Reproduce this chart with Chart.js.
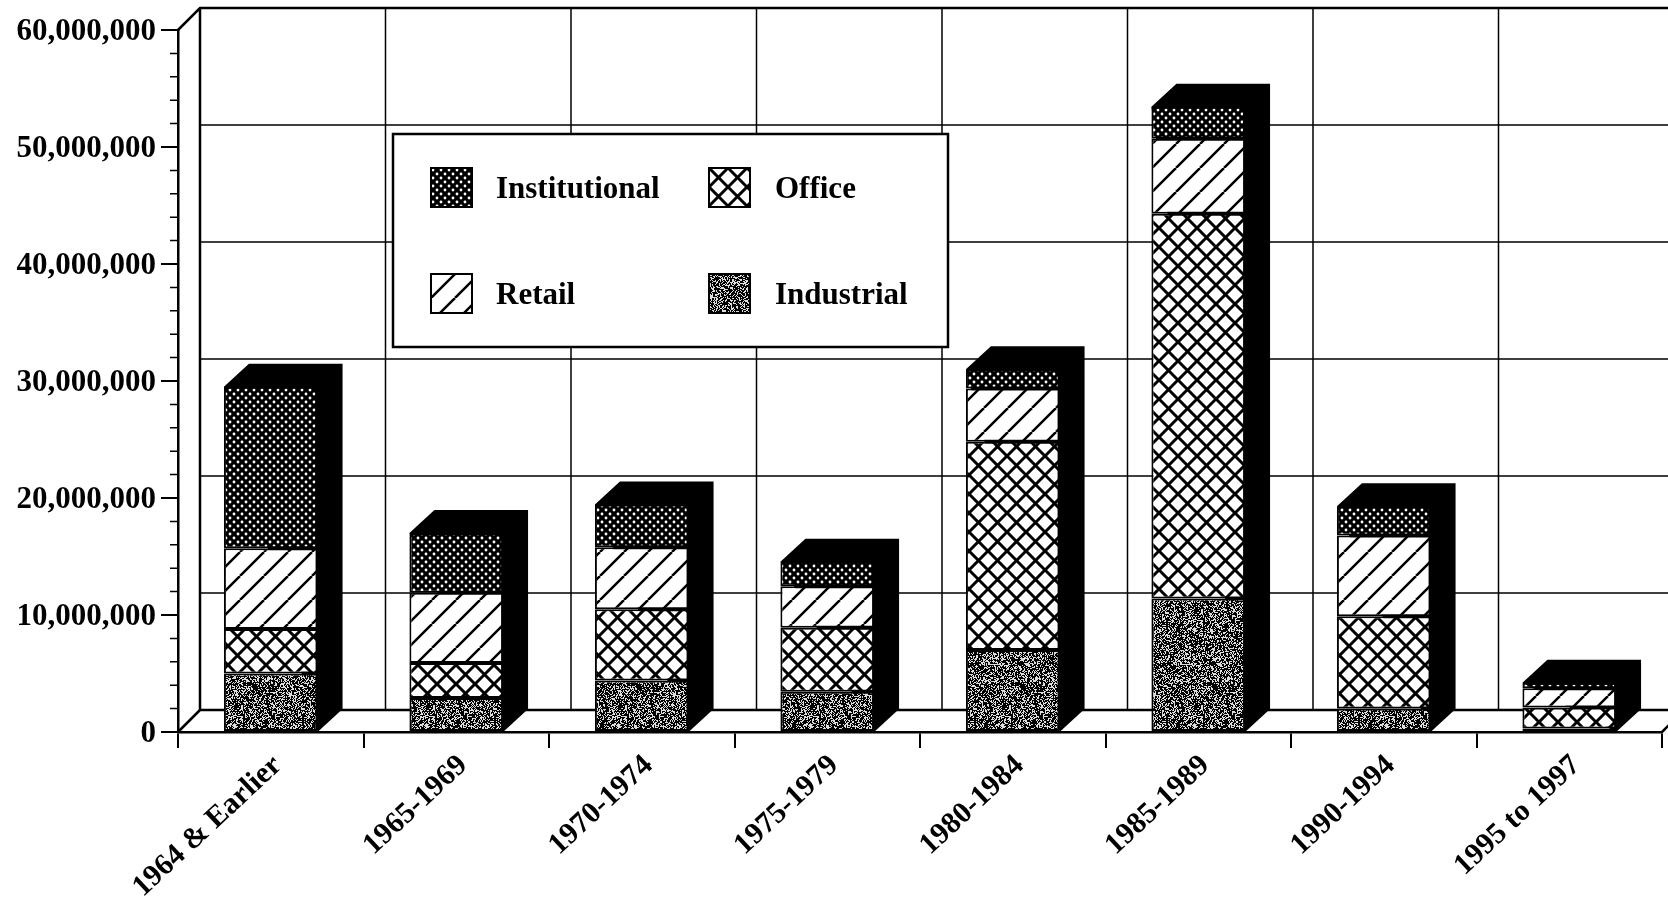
<!DOCTYPE html>
<html>
<head>
<meta charset="utf-8">
<title>Floor space by period</title>
<script src="https://cdn.jsdelivr.net/npm/chart.js@4/dist/chart.umd.min.js"></script>
<style>
  html, body { margin: 0; padding: 0; background: #fff; }
  canvas { display: block; }
</style>
</head>
<body>
<canvas id="chart" width="1668" height="897"></canvas>
<script>
const categories = ['1964 & Earlier', '1965-1969', '1970-1974', '1975-1979', '1980-1984', '1985-1989', '1990-1994', '1995 to 1997'];
const industrial = [5000000, 2900000, 4400000, 3450000, 7000000, 11400000, 2000000, 300000];
const office = [3800000, 3000000, 6100000, 5450000, 17800000, 32900000, 7900000, 1800000];
const retail = [6900000, 6000000, 5300000, 3550000, 4550000, 6400000, 6900000, 1650000];
const institutional = [13800000, 5100000, 3650000, 2100000, 1650000, 2750000, 2500000, 450000];
const yMax = 60000000;
const yMajorStep = 10000000;
const yMinorStep = 2000000;

const FONT = '"Liberation Serif", "Times New Roman", serif';
// 3D offsets of the back wall and of the bars
const WALL_DX = 22, WALL_DY = 22;
const BAR_DX = 25, BAR_DY = 23;

// Fill textures, all drawn into small tiles
function makeTile(w, h, draw) {
  const c = document.createElement('canvas');
  c.width = w; c.height = h;
  const g = c.getContext('2d');
  g.fillStyle = '#fff';
  g.fillRect(0, 0, w, h);
  draw(g);
  return g.createPattern(c, 'repeat');
}
function diagonal(g, s, up) {
  g.beginPath();
  for (let i = -1; i <= 1; i++) {
    if (up) { g.moveTo(i * s, s); g.lineTo(i * s + s, 0); }
    else { g.moveTo(i * s, 0); g.lineTo(i * s + s, s); }
  }
  g.stroke();
}
const retailFill = makeTile(24, 24, g => {
  g.strokeStyle = '#000'; g.lineWidth = 2.5;
  diagonal(g, 24, true);
});
const officeFill = makeTile(19, 19, g => {
  g.strokeStyle = '#000'; g.lineWidth = 3;
  diagonal(g, 19, true);
  diagonal(g, 19, false);
});
const institutionalFill = makeTile(8, 8, g => {
  g.fillStyle = '#000'; g.fillRect(0, 0, 8, 8);
  g.fillStyle = '#fff';
  [[2, 2], [6, 6]].forEach(p => {
    g.beginPath(); g.arc(p[0], p[1], 1.4, 0, Math.PI * 2); g.fill();
  });
});
const industrialFill = makeTile(96, 96, g => {
  // black with white specks, fixed xorshift sequence so it looks the same every run
  let seed = 2463534242;
  g.fillStyle = '#000';
  g.fillRect(0, 0, 96, 96);
  g.fillStyle = '#ddd';
  for (let y = 0; y < 96; y++) {
    for (let x = 0; x < 96; x++) {
      seed ^= seed << 13; seed ^= seed >>> 17; seed ^= seed << 5;
      if ((seed >>> 0) % 100 < 38) g.fillRect(x, y, 1, 1);
    }
  }
});

const wallPlugin = {
  id: 'wall',
  beforeDatasetsDraw(chart) {
    const { ctx, scales: { x, y }, chartArea: a, width } = chart;
    const y0 = y.getPixelForValue(0);
    const yTop = y.getPixelForValue(yMax);
    ctx.save();
    ctx.strokeStyle = '#000';

    // back wall grid
    ctx.lineWidth = 1.5;
    ctx.beginPath();
    for (let v = yMajorStep; v < yMax; v += yMajorStep) {
      const py = y.getPixelForValue(v) - WALL_DY;
      ctx.moveTo(a.left + WALL_DX, py);
      ctx.lineTo(width, py);
    }
    for (let i = 1; i < categories.length; i++) {
      const px = (x.getPixelForValue(i - 1) + x.getPixelForValue(i)) / 2 + WALL_DX;
      ctx.moveTo(px, yTop - WALL_DY);
      ctx.lineTo(px, y0 - WALL_DY);
    }
    ctx.stroke();

    // wall edges and floor
    ctx.lineWidth = 2.5;
    ctx.beginPath();
    ctx.moveTo(a.left, yTop);
    ctx.lineTo(a.left + WALL_DX, yTop - WALL_DY);
    ctx.lineTo(width, yTop - WALL_DY);
    ctx.moveTo(a.left + WALL_DX, yTop - WALL_DY);
    ctx.lineTo(a.left + WALL_DX, y0 - WALL_DY);
    ctx.lineTo(width, y0 - WALL_DY);
    ctx.moveTo(a.left, y0);
    ctx.lineTo(a.left + WALL_DX, y0 - WALL_DY);
    ctx.moveTo(a.right, y0);
    ctx.lineTo(a.right + WALL_DX, y0 - WALL_DY);
    ctx.stroke();

    // minor ticks on the value axis
    ctx.lineWidth = 1.5;
    ctx.beginPath();
    for (let v = 0; v < yMax; v += yMinorStep) {
      if (v % yMajorStep === 0) continue;
      const py = y.getPixelForValue(v);
      ctx.moveTo(a.left - 8, py);
      ctx.lineTo(a.left, py);
    }
    ctx.stroke();

    drawLegend(chart);

    // black side and top of each stacked bar
    const n = chart.data.datasets.length;
    const topMeta = chart.getDatasetMeta(n - 1);
    ctx.fillStyle = '#000';
    topMeta.data.forEach(bar => {
      const l = bar.x - bar.width / 2, r = bar.x + bar.width / 2;
      ctx.beginPath();
      ctx.moveTo(l, bar.y);
      ctx.lineTo(l + BAR_DX, bar.y - BAR_DY);
      ctx.lineTo(r + BAR_DX, bar.y - BAR_DY);
      ctx.lineTo(r + BAR_DX, y0 - BAR_DY);
      ctx.lineTo(r, y0);
      ctx.closePath();
      ctx.fill();
    });
    ctx.restore();
  }
};

// legend box sits on the wall, two columns by two rows
function drawLegend(chart) {
  const ctx = chart.ctx;
  const byLabel = {};
  chart.data.datasets.forEach(d => { byLabel[d.label] = d.backgroundColor; });
  const rows = [['Institutional', 431, 168], ['Office', 709, 168], ['Retail', 431, 274], ['Industrial', 709, 274]];
  ctx.save();
  ctx.fillStyle = '#fff';
  ctx.strokeStyle = '#000';
  ctx.lineWidth = 2.5;
  ctx.fillRect(393, 134, 555, 213);
  ctx.strokeRect(393, 134, 555, 213);
  ctx.font = 'bold 31px ' + FONT;
  ctx.textBaseline = 'middle';
  rows.forEach(r => {
    ctx.fillStyle = byLabel[r[0]];
    ctx.save();
    ctx.translate(r[1], r[2]);
    ctx.fillRect(0, 0, 41, 39);
    ctx.lineWidth = 2;
    ctx.strokeRect(0, 0, 41, 39);
    ctx.restore();
    ctx.fillStyle = '#000';
    ctx.fillText(r[0], r[1] + 65 + (r[1] > 500 ? 1 : 0), r[2] + 22);
  });
  ctx.restore();
}

new Chart(document.getElementById('chart'), {
  type: 'bar',
  plugins: [wallPlugin],
  data: {
    labels: categories,
    datasets: [
      { label: 'Industrial', data: industrial, backgroundColor: industrialFill },
      { label: 'Office', data: office, backgroundColor: officeFill },
      { label: 'Retail', data: retail, backgroundColor: retailFill },
      { label: 'Institutional', data: institutional, backgroundColor: institutionalFill }
    ].map(d => Object.assign(d, {
      borderColor: '#000',
      borderWidth: 2,
      borderSkipped: false,
      categoryPercentage: 1,
      barPercentage: 0.505
    }))
  },
  options: {
    responsive: false,
    animation: false,
    layout: { padding: { top: 30, right: 6, left: 0, bottom: 0 } },
    plugins: { legend: { display: false }, title: { display: false }, tooltip: { enabled: false } },
    scales: {
      x: {
        stacked: true,
        afterFit: s => { s.height = 165; },
        border: { display: true, color: '#000', width: 2.5 },
        grid: { drawOnChartArea: false, drawTicks: true, tickLength: 16, color: '#000', lineWidth: 2 },
        ticks: {
          color: '#000',
          font: { family: FONT, weight: 'bold', size: 30 },
          minRotation: 43,
          maxRotation: 43,
          autoSkip: false,
          padding: 0,
          labelOffset: 7
        }
      },
      y: {
        stacked: true,
        min: 0,
        max: yMax,
        afterFit: s => { s.width = 178; },
        border: { display: true, color: '#000', width: 2.5 },
        grid: { drawOnChartArea: false, drawTicks: true, tickLength: 17, color: '#000', lineWidth: 2 },
        ticks: {
          stepSize: yMajorStep,
          color: '#000',
          font: { family: FONT, weight: 'bold', size: 31 },
          padding: 5,
          labelOffset: 1.5,
          callback: v => v.toLocaleString('en-US')
        }
      }
    }
  }
});
</script>
</body>
</html>
